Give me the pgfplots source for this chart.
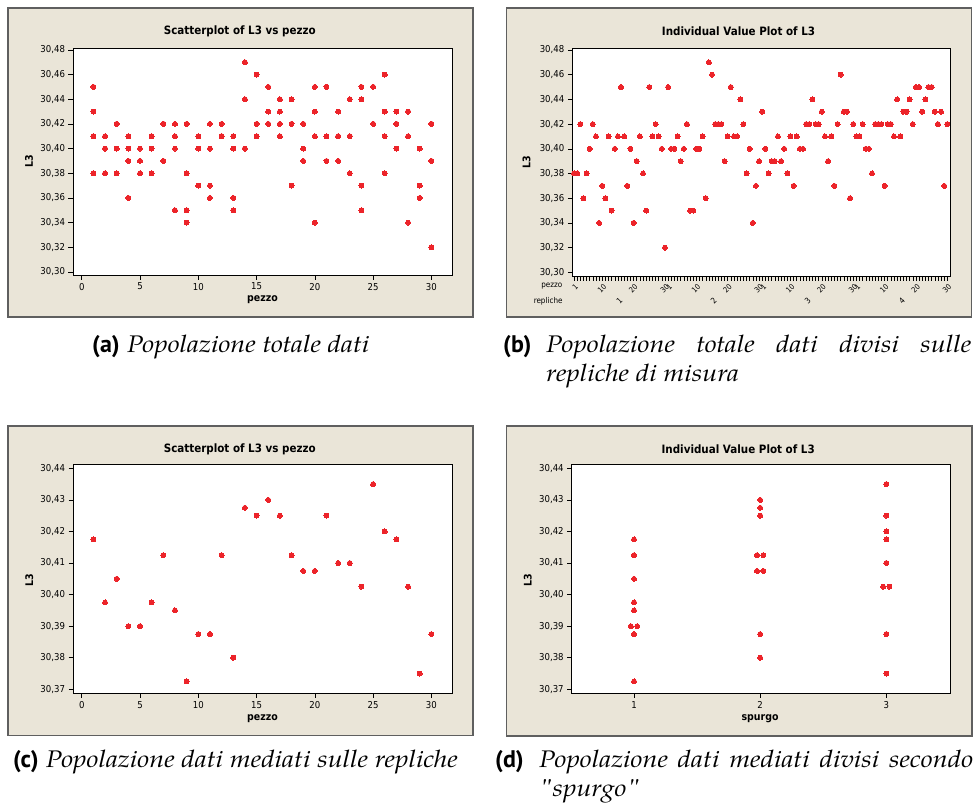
\documentclass[border=0pt]{standalone}
\usepackage{fontspec}
\usepackage{pgfplots}
\pgfplotsset{compat=1.18}
\usepackage{pgfplotstable}
\newfontfamily\mfont[FakeStretch=0.9]{DejaVu Sans}
\newfontfamily\capfont[FakeStretch=1.12]{TeX Gyre Pagella}
\newfontfamily\labfont{PT Sans}
\definecolor{bg}{RGB}{234,229,216}
\definecolor{dotred}{RGB}{236,36,42}
\definecolor{frm}{RGB}{95,95,95}

\pgfplotstableread{
idx pezzo L3
1 1 30.38
2 2 30.38
3 3 30.42
4 4 30.36
5 5 30.38
6 6 30.40
7 7 30.42
8 8 30.41
9 9 30.34
10 10 30.37
11 11 30.36
12 12 30.41
13 13 30.35
14 14 30.40
15 15 30.41
16 16 30.45
17 17 30.41
18 18 30.37
19 19 30.40
20 20 30.34
21 21 30.39
22 22 30.41
23 23 30.38
24 24 30.35
25 25 30.45
26 26 30.41
27 27 30.42
28 28 30.41
29 29 30.40
30 30 30.32
31 1 30.45
32 2 30.40
33 3 30.40
34 4 30.41
35 5 30.39
36 6 30.40
37 7 30.42
38 8 30.35
39 9 30.35
40 10 30.40
41 11 30.40
42 12 30.41
43 13 30.36
44 14 30.47
45 15 30.46
46 16 30.42
47 17 30.42
48 18 30.42
49 19 30.39
50 20 30.41
51 21 30.45
52 22 30.41
53 23 30.41
54 24 30.44
55 25 30.42
56 26 30.38
57 27 30.40
58 28 30.34
59 29 30.37
60 30 30.39
61 1 30.43
62 2 30.40
63 3 30.38
64 4 30.39
65 5 30.39
66 6 30.41
67 7 30.39
68 8 30.40
69 9 30.38
70 10 30.41
71 11 30.37
72 12 30.41
73 13 30.40
74 14 30.40
75 15 30.42
76 16 30.42
77 17 30.44
78 18 30.42
79 19 30.42
80 20 30.43
81 21 30.41
82 22 30.39
83 23 30.41
84 24 30.37
85 25 30.42
86 26 30.46
87 27 30.43
88 28 30.43
89 29 30.36
90 30 30.42
91 1 30.41
92 2 30.41
93 3 30.42
94 4 30.40
95 5 30.40
96 6 30.38
97 7 30.42
98 8 30.42
99 9 30.42
100 10 30.37
101 11 30.42
102 12 30.42
103 13 30.41
104 14 30.44
105 15 30.41
106 16 30.43
107 17 30.43
108 18 30.44
109 19 30.42
110 20 30.45
111 21 30.45
112 22 30.43
113 23 30.44
114 24 30.45
115 25 30.45
116 26 30.43
117 27 30.42
118 28 30.43
119 29 30.37
120 30 30.42
}\tabAll

\pgfplotstableread{
pezzo L3
1 30.4175
2 30.3975
3 30.405
4 30.39
5 30.39
6 30.3975
7 30.4125
8 30.395
9 30.3725
10 30.3875
11 30.3875
12 30.4125
13 30.38
14 30.4275
15 30.425
16 30.43
17 30.425
18 30.4125
19 30.4075
20 30.4075
21 30.425
22 30.41
23 30.41
24 30.4025
25 30.435
26 30.42
27 30.4175
28 30.4025
29 30.375
30 30.3875
}\tabMean

\pgfplotstableread{
sp L3
1 30.4175
1 30.4125
1 30.405
1 30.3975
1 30.3975
1 30.395
0.975 30.39
1.025 30.39
1 30.3875
1 30.3725
2 30.43
2 30.4275
2 30.425
2 30.425
1.975 30.4125
2.025 30.4125
1.975 30.4075
2.025 30.4075
2 30.3875
2 30.38
3 30.435
3 30.425
3 30.42
3 30.4175
3 30.41
3 30.41
2.975 30.4025
3.025 30.4025
3 30.3875
3 30.375
}\tabSp

\pgfplotsset{
  mini/.style={
    scale only axis,
    axis background/.style={fill=white},
    axis line style={black, line width=0.6pt},
    tick style={black, line width=0.5pt},
    tick align=outside,
    major tick length=4.5pt,
    minor tick length=4.5pt,
    xtick pos=left, ytick pos=left,
    every axis title shift=0pt,
    /pgf/number format/assume math mode=true,
    ticklabel style={font=\mfont\fontsize{9.5}{10}\selectfont},
    yticklabel style={/pgf/number format/.cd, fixed, fixed zerofill, precision=2, use comma},
    label style={font=\mfont\bfseries\fontsize{10.5}{11}\selectfont},
    title style={font=\mfont\bfseries\fontsize{11.5}{12}\selectfont, anchor=center},
    xlabel style={anchor=center},
    ylabel style={anchor=center},
  },
  dots/.style={only marks, color=dotred, mark=*, mark size=2.5pt, mark options={draw=dotred, fill=dotred, line width=0pt}},
}
\newcommand\capl[1]{{\labfont\bfseries #1}}

\begin{document}
\begin{tikzpicture}
\useasboundingbox (0pt,0pt) rectangle (976pt,-811pt);
% panel frames
\filldraw[fill=bg, draw=frm, line width=1.3pt] (8pt,-8pt) rectangle (473pt,-317pt);
\filldraw[fill=bg, draw=frm, line width=1.3pt] (506.7pt,-8pt) rectangle (971.7pt,-317pt);
\filldraw[fill=bg, draw=frm, line width=1.3pt] (8pt,-426pt) rectangle (473pt,-735.7pt);
\filldraw[fill=bg, draw=frm, line width=1.3pt] (506.7pt,-426pt) rectangle (972pt,-736pt);

% (a)
\begin{axis}[mini, at={(73pt,-275pt)}, anchor=south west, width=379pt, height=227pt,
  xmin=-0.75, xmax=31.77, ymin=30.2975, ymax=30.4815,
  xtick={0,5,10,15,20,25,30},
  ytick={30.30,30.32,30.34,30.36,30.38,30.40,30.42,30.44,30.46,30.48},
  title={Scatterplot of L3 vs pezzo}, title style={at={(0.44,1.075)}},
  xlabel={pezzo}, xlabel style={at={(0.5,-0.11)}},
  ylabel={L3}, ylabel style={at={(-0.116,0.5)}}]
\addplot[dots] table[x=pezzo, y=L3] {\tabAll};
\end{axis}

% (b)
\begin{axis}[mini, at={(572.3pt,-276pt)}, anchor=south west, width=377.7pt, height=228pt,
  xmin=0.46, xmax=120.86, ymin=30.297, ymax=30.4816,
  xtick={1,10,20,30,31,40,50,60,61,70,80,90,91,100,110,120},
  xticklabels={1,10,20,30,1,10,20,30,1,10,20,30,1,10,20,30},
  minor xtick={1,2,...,120},
  xticklabel style={rotate=45, anchor=north east, font=\mfont\fontsize{7.5}{8}\selectfont, xshift=2pt, yshift=1pt},
  ytick={30.30,30.32,30.34,30.36,30.38,30.40,30.42,30.44,30.46,30.48},
  title={Individual Value Plot of L3}, title style={at={(0.44,1.075)}},
  ylabel={L3}, ylabel style={at={(-0.121,0.5)}}]
\addplot[dots] table[x=idx, y=L3] {\tabAll};
\end{axis}
\begin{scope}[every node/.style={font=\mfont\fontsize{8}{9}\selectfont, inner sep=0pt}]
\node[anchor=east] at (562.5pt,-286pt) {pezzo};
\node[anchor=east] at (562.7pt,-301pt) {repliche};
\node[rotate=45] at (619.5pt,-301pt) {1};
\node[rotate=45] at (713.6pt,-301pt) {2};
\node[rotate=45] at (807.7pt,-301pt) {3};
\node[rotate=45] at (901.8pt,-301pt) {4};
\end{scope}

% (c)
\begin{axis}[mini, at={(73pt,-693.3pt)}, anchor=south west, width=379pt, height=229pt,
  xmin=-0.75, xmax=31.77, ymin=30.36873, ymax=30.44127,
  xtick={0,5,10,15,20,25,30},
  ytick={30.37,30.38,30.39,30.40,30.41,30.42,30.43,30.44},
  title={Scatterplot of L3 vs pezzo}, title style={at={(0.44,1.067)}},
  xlabel={pezzo}, xlabel style={at={(0.5,-0.109)}},
  ylabel={L3}, ylabel style={at={(-0.115,0.495)}}]
\addplot[dots] table[x=pezzo, y=L3] {\tabMean};
\end{axis}

% (d)
\begin{axis}[mini, at={(571.7pt,-693.3pt)}, anchor=south west, width=378.3pt, height=229pt,
  xmin=0.506, xmax=3.505, ymin=30.36873, ymax=30.44127,
  xtick={1,2,3},
  ytick={30.37,30.38,30.39,30.40,30.41,30.42,30.43,30.44},
  title={Individual Value Plot of L3}, title style={at={(0.44,1.067)}},
  xlabel={spurgo}, xlabel style={at={(0.498,-0.109)}},
  ylabel={L3}, ylabel style={at={(-0.116,0.495)}}]
\addplot[dots] table[x=sp, y=L3] {\tabSp};
\end{axis}

% captions
\begin{scope}[every node/.style={inner sep=0pt, font=\fontsize{24}{29}\selectfont}]
\node[anchor=base west] at (92pt,-352pt) {\capl{(a)} {\capfont\itshape Popolazione totale dati}};
\node[anchor=base west] at (503pt,-352pt) {\makebox[43pt][l]{\capl{(b)}}\parbox[t]{425pt}{\capfont\itshape\hyphenpenalty=10000 Popolazione totale dati divisi sulle\linebreak repliche di misura}};
\node[anchor=base west] at (13pt,-767.7pt) {\capl{(c)} {\capfont\itshape Popolazione dati mediati sulle repliche}};
\node[anchor=base west] at (495pt,-767.7pt) {\makebox[44pt][l]{\capl{(d)}}\parbox[t]{434pt}{\capfont\itshape\hyphenpenalty=10000 Popolazione dati mediati divisi secondo\linebreak "spurgo"}};
\end{scope}
\end{tikzpicture}
\end{document}
